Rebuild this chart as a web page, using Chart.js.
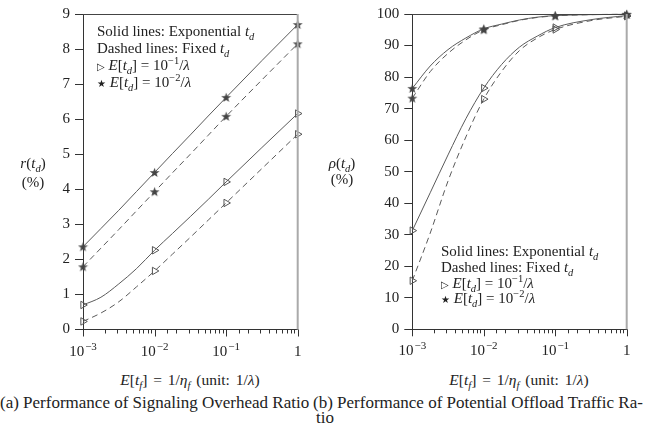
<!DOCTYPE html>
<html>
<head>
<meta charset="utf-8">
<script src="https://cdn.jsdelivr.net/npm/chart.js@4.4.1/dist/chart.umd.min.js"></script>
<style>
  body { margin: 0; background: #fff; }
  #wrap { position: relative; width: 656px; height: 436px; font-family: "Liberation Serif", "DejaVu Serif", serif; color: #222; }
  canvas { position: absolute; top: 0; }
  .txt { position: absolute; white-space: nowrap; font-size: 14px; line-height: 16px; }
  .txt sub, .txt sup { font-size: 10.5px; line-height: 0; }
  .ylab { text-align: center; width: 50px; font-size: 15px; }
  .leg { font-size: 15px; }
  .xt { text-align: center; width: 200px; font-size: 15.5px; word-spacing: 2px; }
  .cap { font-size: 17px; }
</style>
</head>
<body>
<div id="wrap">
  <canvas id="left" width="328" height="365" style="left:0"></canvas>
  <canvas id="right" width="328" height="365" style="left:328px"></canvas>

  <div class="txt ylab" style="left:8px; top:155px"><i>r</i>(<i>t<sub>d</sub></i>)</div>
  <div class="txt ylab" style="left:8px; top:174px">(%)</div>
  <div class="txt ylab" style="left:317px; top:155px"><i>ρ</i>(<i>t<sub>d</sub></i>)</div>
  <div class="txt ylab" style="left:317px; top:171px">(%)</div>

  <div class="txt leg" style="left:97px; top:23px">Solid lines: Exponential <i>t<sub>d</sub></i></div>
  <div class="txt leg" style="left:97px; top:40px">Dashed lines: Fixed <i>t<sub>d</sub></i></div>
  <div class="txt leg" style="left:97px; top:57px"><span style="font-size:10px">▷</span> <i>E</i>[<i>t<sub>d</sub></i>] = 10<sup>−1</sup>/<i>λ</i></div>
  <div class="txt leg" style="left:97px; top:74px"><span style="font-size:10px">★</span> <i>E</i>[<i>t<sub>d</sub></i>] = 10<sup>−2</sup>/<i>λ</i></div>

  <div class="txt leg" style="left:441px; top:243px">Solid lines: Exponential <i>t<sub>d</sub></i></div>
  <div class="txt leg" style="left:441px; top:259px">Dashed lines: Fixed <i>t<sub>d</sub></i></div>
  <div class="txt leg" style="left:441px; top:275px"><span style="font-size:10px">▷</span> <i>E</i>[<i>t<sub>d</sub></i>] = 10<sup>−1</sup>/<i>λ</i></div>
  <div class="txt leg" style="left:441px; top:290px"><span style="font-size:10px">★</span> <i>E</i>[<i>t<sub>d</sub></i>] = 10<sup>−2</sup>/<i>λ</i></div>

  <div class="txt xt" style="left:90px; top:372px"><i>E</i>[<i>t<sub>f</sub></i>] = 1/<i>η<sub>f</sub></i> (unit: 1/<i>λ</i>)</div>
  <div class="txt xt" style="left:419px; top:372px"><i>E</i>[<i>t<sub>f</sub></i>] = 1/<i>η<sub>f</sub></i> (unit: 1/<i>λ</i>)</div>

  <div class="txt cap" style="left:0px; top:395px">(a) Performance of Signaling Overhead Ratio</div>
  <div class="txt cap" style="left:313px; top:395px">(b) Performance of Potential Offload Traffic Ra-</div>
  <div class="txt cap" style="left:316px; top:410px">tio</div>
</div>

<script>
// x positions (E[t_f], unit 1/lambda) where the curves were read
const xs = [0.001, 0.00178, 0.00316, 0.00562, 0.01, 0.0178, 0.0316, 0.0562, 0.1, 0.316, 1];
const decades = [0.001, 0.01, 0.1, 1];
const decadeExp = ['−3', '−2', '−1', ''];

// (a) signaling overhead ratio r(t_d) in %
const rExpStar  = [2.36, 2.88, 3.40, 3.94, 4.48, 5.02, 5.55, 6.09, 6.62, 7.67, 8.70];
const rFixStar  = [1.79, 2.32, 2.85, 3.39, 3.93, 4.47, 5.00, 5.54, 6.08, 7.12, 8.15];
const rExpTri   = [0.70, 0.92, 1.30, 1.74, 2.26, 2.74, 3.22, 3.71, 4.21, 5.19, 6.16];
const rFixTri   = [0.23, 0.47, 0.79, 1.22, 1.67, 2.15, 2.63, 3.12, 3.61, 4.59, 5.57];

// (b) potential offload traffic ratio rho(t_d) in %
const pExpStar  = [76.4, 83.5, 88.7, 92.4, 95.3, 96.8, 98.1, 99.0, 99.5, 99.8, 99.9];
const pFixStar  = [73.3, 81.7, 87.5, 91.8, 95.0, 96.6, 98.0, 98.9, 99.4, 99.8, 99.9];
const pExpTri   = [31.3, 43.3, 55.3, 66.8, 76.5, 84.0, 89.5, 93.0, 95.7, 98.2, 99.5];
const pFixTri   = [15.4, 30.5, 47.0, 61.0, 73.0, 81.8, 88.4, 92.4, 95.1, 97.9, 99.3];

const lineColor = '#5a5a5a';
const tickFont = 'Liberation Serif';

// small filled star used as marker
function makeStar() {
  const c = document.createElement('canvas');
  c.width = 11; c.height = 11;
  const g = c.getContext('2d');
  g.fillStyle = '#444';
  g.beginPath();
  for (let i = 0; i < 10; i++) {
    const r = i % 2 === 0 ? 5.2 : 2.1;
    const a = -Math.PI / 2 + i * Math.PI / 5;
    g.lineTo(5.5 + r * Math.cos(a), 5.9 + r * Math.sin(a));
  }
  g.closePath();
  g.fill();
  return c;
}
const starImg = makeStar();

function decadeIndex(v) {
  return decades.findIndex(d => Math.abs(v / d - 1) < 1e-6);
}

function series(vals, dashed, star) {
  return {
    data: xs.map((x, i) => ({x: x, y: vals[i]})),
    borderColor: lineColor,
    borderWidth: 1,
    borderDash: dashed ? [6, 4] : [],
    cubicInterpolationMode: 'monotone',
    pointStyle: star ? starImg : 'triangle',
    rotation: star ? 0 : 90,
    pointRadius: ctx => decadeIndex(ctx.raw.x) >= 0 ? 4.3 : 0,
    pointBorderColor: '#555',
    pointBackgroundColor: 'rgba(0,0,0,0)',
    pointBorderWidth: 1,
    clip: false
  };
}

// top / right frame, x tick marks (long for decades) and the 10^n labels
const framePlugin = {
  id: 'frame',
  afterDraw(chart) {
    const a = chart.chartArea;
    const g = chart.ctx;
    const sx = chart.scales.x;
    g.save();
    g.strokeStyle = '#444';
    g.lineWidth = 1;
    g.beginPath();
    g.moveTo(a.left, a.top + 0.5);
    g.lineTo(a.right, a.top + 0.5);
    g.stroke();
    g.strokeStyle = '#aaa';
    g.lineWidth = 2;
    g.beginPath();
    g.moveTo(a.right, a.top);
    g.lineTo(a.right, a.bottom);
    g.stroke();
    g.strokeStyle = '#333';
    g.lineWidth = 1;
    sx.ticks.forEach(t => {
      const px = Math.round(sx.getPixelForValue(t.value)) + 0.5;
      const di = decadeIndex(t.value);
      g.beginPath();
      g.moveTo(px, a.bottom);
      g.lineTo(px, a.bottom + (di >= 0 ? 7 : 4));
      g.stroke();
      if (di < 0) return;
      // label: "10" with raised exponent, or "1"
      const base = di === 3 ? '1' : '10';
      const ex = decadeExp[di];
      g.fillStyle = '#222';
      g.textBaseline = 'alphabetic';
      g.font = '15px ' + tickFont;
      const wb = g.measureText(base).width;
      g.font = '11px ' + tickFont;
      const we = ex ? g.measureText(ex).width + 1 : 0;
      const x0 = sx.getPixelForValue(t.value) - (wb + we) / 2;
      const y0 = a.bottom + 26;
      g.font = '15px ' + tickFont;
      g.fillText(base, x0, y0);
      if (ex) {
        g.font = '11px ' + tickFont;
        g.fillText(ex, x0 + wb + 1, y0 - 6);
      }
    });
    g.restore();
  }
};

function makeChart(id, sets, yMax, yStep, yWidth, padRight, xHeight) {
  return new Chart(document.getElementById(id), {
    type: 'line',
    data: {datasets: sets},
    options: {
      responsive: false,
      animation: false,
      layout: {padding: {top: 14, right: padRight, left: 0, bottom: 0}},
      plugins: {legend: {display: false}, tooltip: {enabled: false}},
      scales: {
        x: {
          type: 'logarithmic',
          min: 0.001,
          max: 1,
          grid: {display: false, drawTicks: false},
          border: {display: true, color: '#333', width: 1},
          afterFit: s => { s.height = xHeight; },
          ticks: {display: false, autoSkip: false, maxRotation: 0}
        },
        y: {
          min: 0,
          max: yMax,
          grid: {display: true, drawOnChartArea: false, drawTicks: true, tickLength: 8, color: '#333'},
          border: {display: true, color: '#333', width: 1},
          afterFit: s => { s.width = yWidth; },
          ticks: {
            stepSize: yStep,
            padding: 5,
            color: '#222',
            font: {family: tickFont, size: 15}
          }
        }
      }
    },
    plugins: [framePlugin]
  });
}

const left = makeChart('left', [
  series(rExpStar, false, true),
  series(rFixStar, true, true),
  series(rExpTri, false, false),
  series(rFixTri, true, false)
], 9, 1, 83, 30.3, 35.5);

const right = makeChart('right', [
  series(pExpStar, false, true),
  series(pFixStar, true, true),
  series(pExpTri, false, false),
  series(pFixTri, true, false)
], 100, 10, 84.3, 29.3, 35.7);
</script>
</body>
</html>
